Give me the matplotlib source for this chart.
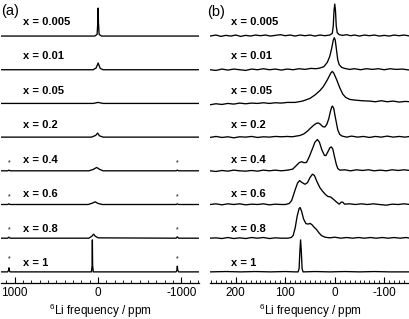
import numpy as np
import matplotlib.pyplot as plt

plt.rcParams['font.family'] = 'Liberation Sans'
plt.rcParams['font.size'] = 8.5
plt.rcParams['mathtext.default'] = 'regular'
plt.rcParams['axes.unicode_minus'] = False

compositions = ["0.005", "0.01", "0.05", "0.2", "0.4", "0.6", "0.8", "1"]

# (a) full spectral window: (ppm, intensity)
a_0005 = [(1165, 0), (40, 0), (12, 0.05), (4, 0.4), (0, 0.83), (-4, 0.4), (-12, 0.05), (-40, 0), (-1210, 0)]
a_001 = [(1165, 0), (60, 0), (25, 0.05), (8, 0.15), (0, 0.2), (-8, 0.15), (-25, 0.04), (-60, 0), (-1210, 0)]
a_005 = [(1165, 0), (60, 0), (0, 0.03), (-60, 0), (-1210, 0)]
a_02 = [(1165, 0), (80, 0), (30, 0.05), (5, 0.12), (-15, 0.04), (-60, 0), (-1210, 0)]
a_04 = [(1165, 0), (1085, 0), (1070, 0.02), (1055, 0), (110, 0), (60, 0.04), (17, 0.1), (-20, 0.04),
        (-60, 0), (-935, 0), (-950, 0.02), (-965, 0), (-1210, 0)]
a_06 = [(1165, 0), (1085, 0), (1070, 0.02), (1055, 0), (120, 0), (70, 0.04), (36, 0.08), (0, 0.03),
        (-50, 0), (-935, 0), (-950, 0.02), (-965, 0), (-1210, 0)]
a_08 = [(1165, 0), (1085, 0), (1070, 0.03), (1055, 0), (110, 0), (75, 0.06), (55, 0.12), (35, 0.06),
        (0, 0.01), (-935, 0), (-950, 0.04), (-965, 0), (-1210, 0)]
a_1 = [(1165, 0), (1085, 0), (1075, 0.04), (1070, 0.12), (1065, 0.04), (1055, 0), (80, 0), (72, 0.2),
       (69, 0.95), (66, 0.2), (58, 0), (-935, 0), (-945, 0.05), (-950, 0.17), (-955, 0.05), (-965, 0), (-1210, 0)]

# (b) isotropic region
b_0005 = [(252, 0.0), (240, 0.03), (230, -0.01), (220, 0.02), (210, 0.0), (200, 0.03), (190, -0.01),
          (180, 0.02), (170, 0.0), (160, 0.03), (150, 0.01), (140, 0.03), (130, 0.0), (120, 0.02),
          (110, 0.04), (100, 0.01), (90, 0.03), (80, 0.0), (70, 0.03), (60, 0.01), (50, 0.03), (40, 0.0),
          (30, 0.03), (20, 0.01), (10, 0.03), (5, 0.08), (3, 0.3), (1.5, 0.75), (0, 0.95), (-1.5, 0.75),
          (-3, 0.3), (-5, 0.1), (-9, 0.04), (-16, 0.02), (-24, 0.04), (-32, 0.01), (-40, 0.03), (-50, 0.0),
          (-60, 0.03), (-70, 0.01), (-80, 0.03), (-90, 0.0), (-100, 0.02), (-110, 0.0), (-120, 0.03),
          (-130, 0.01), (-140, 0.03), (-152, 0.0)]
b_001 = [(252, 0.0), (240, -0.02), (228, 0.02), (216, -0.01), (204, 0.02), (192, 0.0), (180, -0.02),
         (168, 0.02), (156, 0.0), (144, 0.03), (132, 0.0), (120, 0.02), (108, -0.01), (96, 0.02), (84, 0.0),
         (72, 0.03), (60, 0.01), (48, 0.04), (38, 0.03), (30, 0.05), (22, 0.09), (15, 0.22), (10, 0.4),
         (6, 0.65), (3, 0.88), (1, 0.95), (-1, 0.88), (-3, 0.65), (-6, 0.3), (-9, 0.15), (-14, 0.07),
         (-20, 0.04), (-30, 0.01), (-40, 0.03), (-52, 0.0), (-64, 0.03), (-76, 0.01), (-88, 0.03),
         (-100, 0.0), (-112, 0.03), (-124, 0.01), (-136, 0.02), (-152, -0.01)]
b_005 = [(252, -0.04), (240, -0.01), (228, -0.03), (216, 0.0), (204, -0.02), (192, 0.01), (180, -0.01),
         (168, 0.01), (156, 0.0), (144, 0.02), (132, 0.0), (120, 0.02), (108, 0.01), (96, 0.03), (80, 0.03),
         (65, 0.07), (50, 0.15), (40, 0.25), (30, 0.38), (23, 0.5), (15, 0.7), (8, 0.9), (5, 0.95),
         (2, 0.9), (-4, 0.7), (-10, 0.47), (-16, 0.28), (-22, 0.18), (-30, 0.12), (-40, 0.1), (-55, 0.08),
         (-70, 0.07), (-82, 0.05), (-94, 0.08), (-106, 0.05), (-118, 0.07), (-130, 0.04), (-142, 0.06),
         (-152, 0.05)]
b_02 = [(252, -0.01), (240, 0.02), (228, -0.01), (216, 0.01), (204, -0.02), (192, 0.01), (180, 0.0),
        (168, 0.02), (156, -0.01), (144, 0.01), (132, 0.0), (120, 0.02), (108, 0.01), (96, 0.02), (86, 0.01),
        (78, 0.03), (70, 0.05), (62, 0.1), (55, 0.18), (48, 0.28), (42, 0.36), (37, 0.41), (33, 0.42),
        (29, 0.38), (24, 0.31), (20, 0.3), (16, 0.38), (12, 0.55), (9, 0.75), (6, 0.9), (4.5, 0.92),
        (2, 0.85), (-1, 0.6), (-3, 0.45), (-6, 0.22), (-10, 0.08), (-15, 0.03), (-24, 0.0), (-34, 0.03),
        (-46, 0.0), (-58, 0.02), (-70, -0.01), (-82, 0.02), (-94, 0.0), (-106, 0.03), (-118, 0.0),
        (-130, 0.02), (-142, 0.0), (-152, 0.02)]
b_04 = [(252, 0.0), (240, -0.02), (228, 0.01), (216, -0.01), (204, 0.02), (192, 0.0), (180, -0.01),
        (168, 0.01), (156, -0.01), (144, 0.02), (132, 0.0), (120, 0.02), (108, 0.0), (95, 0.02),
        (85, 0.05), (78, 0.15), (72, 0.24), (67, 0.27), (62, 0.24), (57, 0.25), (52, 0.4), (46, 0.62),
        (40, 0.85), (35, 0.93), (31, 0.85), (26, 0.62), (21, 0.46), (18, 0.45), (14, 0.56), (10, 0.68),
        (7, 0.71), (4, 0.65), (1, 0.45), (-3, 0.2), (-6, 0.07), (-10, 0.02), (-20, 0.03), (-32, 0.0),
        (-44, 0.03), (-56, 0.01), (-68, 0.03), (-80, 0.0), (-92, 0.02), (-104, 0.0), (-116, 0.03),
        (-128, 0.01), (-140, 0.03), (-152, 0.01)]
b_06 = [(252, 0.0), (240, 0.02), (228, -0.01), (216, 0.02), (204, 0.0), (192, 0.02), (180, -0.01),
        (168, 0.01), (156, 0.0), (144, 0.02), (132, -0.01), (120, 0.01), (108, 0.0), (100, 0.0),
        (92, 0.03), (87, 0.12), (83, 0.3), (79, 0.48), (75, 0.64), (71, 0.71), (67, 0.66), (60, 0.6),
        (55, 0.65), (50, 0.8), (45, 0.9), (41, 0.86), (36, 0.68), (30, 0.5), (25, 0.4), (19, 0.3),
        (14, 0.24), (8, 0.22), (3, 0.16), (-3, 0.08), (-9, 0.01), (-13, 0.07), (-16, 0.07), (-20, 0.01),
        (-30, 0.02), (-42, 0.0), (-54, 0.02), (-66, 0.0), (-78, 0.02), (-90, 0.0), (-104, -0.02),
        (-116, 0.01), (-128, 0.0), (-140, 0.02), (-152, 0.0)]
b_08 = [(252, 0.0), (240, 0.01), (228, -0.01), (216, 0.02), (204, -0.01), (192, 0.01), (180, -0.01),
        (168, 0.02), (156, 0.0), (144, 0.02), (132, -0.01), (120, 0.01), (108, 0.0), (95, 0.0), (88, 0.02),
        (84, 0.08), (80, 0.3), (76, 0.65), (72, 0.88), (70, 0.91), (67, 0.8), (63, 0.57), (58, 0.43),
        (53, 0.42), (50, 0.44), (46, 0.4), (42, 0.33), (37, 0.26), (32, 0.16), (27, 0.08), (20, 0.03),
        (10, 0.01), (0, 0.03), (-12, 0.0), (-24, 0.02), (-36, 0.0), (-48, 0.02), (-60, 0.0), (-72, 0.02),
        (-84, 0.0), (-96, 0.02), (-108, 0.0), (-120, 0.02), (-132, 0.0), (-144, 0.02), (-152, 0.0)]
b_1 = [(252, 0.0), (220, 0.01), (190, 0.0), (160, 0.01), (130, 0.0), (100, 0.01), (80, 0.0), (74, 0.0),
       (72, 0.1), (70.5, 0.6), (69, 0.95), (67.5, 0.6), (66, 0.1), (64, 0.0), (40, 0.01), (10, 0.0),
       (-20, 0.01), (-50, 0.0), (-80, 0.01), (-110, 0.0), (-152, 0.0)]

traces_a = [a_0005, a_001, a_005, a_02, a_04, a_06, a_08, a_1]
traces_b = [b_0005, b_001, b_005, b_02, b_04, b_06, b_08, b_1]

# spinning sidebands marked with * in (a)
sideband_ppm = [1070, -950]
starred = ["0.4", "0.6", "0.8", "1"]

fig = plt.figure(figsize=(4.1, 3.19), dpi=100)
ax_a = fig.add_axes([1 / 410, 36 / 319, 198 / 410, 283 / 319])
ax_b = fig.add_axes([210 / 410, 36 / 319, 200 / 410, 283 / 319])

n = len(compositions)
for ax, traces, xlim, label_x in [(ax_a, traces_a, (1165, -1210), 900),
                                  (ax_b, traces_b, (252, -152), 209)]:
    for k, (comp, tr) in enumerate(zip(compositions, traces)):
        off = n - 1 - k
        ppm = np.array([p for p, _ in tr])
        h = np.array([v for _, v in tr])
        ax.plot(ppm, h + off, color='k', lw=0.95)
        ax.text(label_x, 1 - (21.7 + 34.5 * k) / 283, f"x = {comp}", transform=ax.get_xaxis_transform(),
                ha='left', va='center', fontweight='bold', fontsize=8)
    ax.set_xlim(*xlim)
    ax.set_ylim(-0.33, 8.07)
    for s in ['top', 'left', 'right']:
        ax.spines[s].set_visible(False)
    ax.spines['bottom'].set_linewidth(0.9)
    ax.set_yticks([])
    ax.tick_params(axis='x', direction='in', length=4, width=0.8, pad=3)
    ax.tick_params(axis='x', which='minor', direction='in', length=2, width=0.6)
    ax.set_xlabel(r'$^{6}$Li frequency / ppm', labelpad=2)

for k, comp in enumerate(compositions):
    if comp in starred:
        tr = traces_a[k]
        sb = max(v for p, v in tr if abs(p) > 900)
        for p in sideband_ppm:
            ax_a.text(p, n - 1 - k + sb + 0.22, '*', ha='center', va='center', fontsize=5)

ax_a.set_xticks([1000, 0, -1000])
ax_a.set_xticks(np.arange(-1200, 1101, 100), minor=True)
ax_b.set_xticks([200, 100, 0, -100])
ax_b.set_xticks(np.arange(-150, 251, 10), minor=True)

fig.text(1 / 410, 1 - 11 / 319, '(a)', fontsize=10.5, va='center', ha='left')
fig.text(207 / 410, 1 - 12 / 319, '(b)', fontsize=10.5, va='center', ha='left')

fig.savefig('out.png', dpi=100)
